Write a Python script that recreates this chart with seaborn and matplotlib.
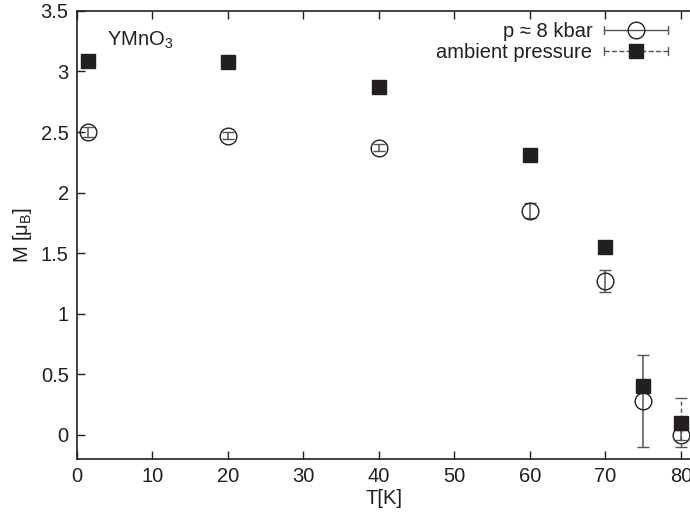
import matplotlib
matplotlib.use("Agg")
import matplotlib.pyplot as plt
from matplotlib.legend_handler import HandlerBase
from matplotlib.lines import Line2D
import seaborn as sns
import numpy as np

# Data
temps = [1.5, 20, 40, 60, 70, 75, 80]
m_pressure = [2.50, 2.47, 2.37, 1.85, 1.27, 0.28, 0.00]
err_pressure = [0.04, 0.03, 0.03, 0.06, 0.09, 0.38, 0.04]
m_ambient = [3.09, 3.08, 2.87, 2.31, 1.55, 0.40, 0.10]
err_ambient = [0.03, 0.03, 0.03, 0.03, 0.03, 0.03, 0.20]
labels = ["p ≈ 8 kbar", "ambient pressure"]

sns.set_style("ticks")
plt.rcParams["font.family"] = ["Liberation Sans", "DejaVu Sans"]
plt.rcParams["mathtext.fontset"] = "custom"
plt.rcParams["mathtext.rm"] = "Liberation Sans"
plt.rcParams["mathtext.it"] = "Liberation Sans:italic"

dark = "#231f20"
fs = 14.5


class HandlerErr(HandlerBase):
    # gnuplot-style key: horizontal bar with end caps and the marker in the middle
    def create_artists(self, legend, orig, xdescent, ydescent, width, height,
                       fontsize, trans):
        x0, x1 = -xdescent, width - xdescent
        y = (height - ydescent) / 2
        c = height * 0.28
        ls = orig.get_linestyle()
        arts = [Line2D([x0, x1], [y, y], color="#555555", lw=1.0, ls=ls)]
        for xx in (x0, x1):
            arts.append(Line2D([xx, xx], [y - c, y + c], color="#555555", lw=1.0))
        arts.append(Line2D([(x0 + x1) / 2], [y], marker=orig.get_marker(),
                           ms=orig.get_markersize(), mfc=orig.get_markerfacecolor(),
                           mec=orig.get_markeredgecolor(), mew=1.0, ls="none"))
        for a in arts:
            a.set_transform(trans)
        return arts


fig = plt.figure(figsize=(6.9, 5.2), dpi=100)
ax = fig.add_axes([0.1116, 0.1173, 0.8884, 0.8617])

ax.errorbar(temps, m_pressure, yerr=err_pressure, fmt="o", ms=12,
            mfc="none", mec=dark, mew=1.0, ecolor="#555555",
            elinewidth=1.1, capsize=4, capthick=1.1, zorder=3)
eb2 = ax.errorbar(temps, m_ambient, yerr=err_ambient, fmt="s", ms=10,
                  mfc=dark, mec=dark, ecolor="#555555",
                  elinewidth=1.0, capsize=4, capthick=1.0, zorder=4)
for line in eb2[2]:
    line.set_linestyle((0, (3, 2)))

ax.set_xlim(0, 81.2)
ax.set_ylim(-0.2, 3.5)
ax.set_xticks(np.arange(0, 81, 10))
ax.set_yticks([0, 0.5, 1, 1.5, 2, 2.5, 3, 3.5])
ax.set_yticklabels(["0", "0.5", "1", "1.5", "2", "2.5", "3", "3.5"])

ax.tick_params(direction="in", length=6, width=1, labelsize=fs,
               top=True, right=False, colors=dark, pad=6)
for s in ["left", "bottom", "top"]:
    ax.spines[s].set_linewidth(1.2)
    ax.spines[s].set_color(dark)
ax.spines["right"].set_visible(False)

ax.set_xlabel("T[K]", fontsize=fs, color=dark, labelpad=2)
ax.set_ylabel("M [μ$_\\mathrm{B}$]", fontsize=fs, color=dark, labelpad=5)

ax.text(3.97, 3.215, r"YMnO$_3$", fontsize=fs, color=dark, va="baseline")

h1 = Line2D([], [], marker="o", ms=12, mfc="none", mec=dark, ls="-")
h2 = Line2D([], [], marker="s", ms=10, mfc=dark, mec=dark, ls=(0, (3, 2)))
leg = ax.legend([h1, h2], labels, loc="upper right",
                bbox_to_anchor=(0.977, 0.993), frameon=False,
                markerfirst=False, fontsize=fs, handlelength=3.15,
                handletextpad=0.6, borderaxespad=0.0, labelspacing=0.1,
                handler_map={Line2D: HandlerErr()})
for t in leg.get_texts():
    t.set_color(dark)

fig.savefig("out.png", dpi=100)
